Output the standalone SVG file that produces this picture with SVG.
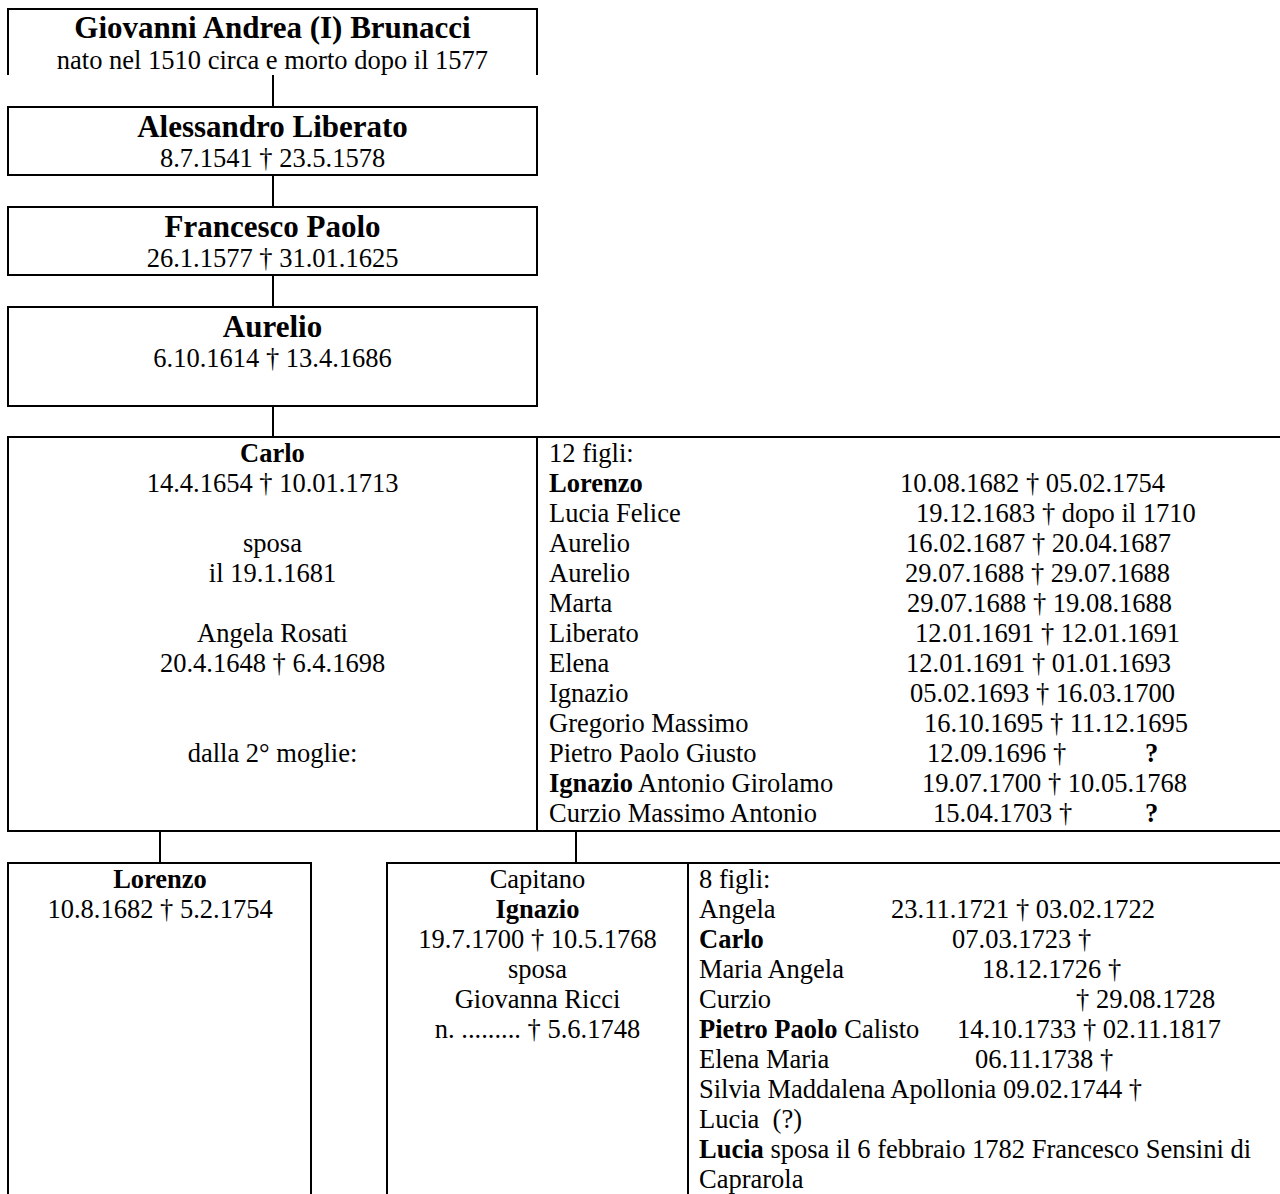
<svg xmlns="http://www.w3.org/2000/svg" width="1280" height="1194" viewBox="0 0 1280 1194">
<style>
text{font-family:"Liberation Serif","Times New Roman",serif;font-size:26.5px;fill:#000}
.t{font-size:31px;font-weight:bold}
.b{font-weight:bold}
.c{text-anchor:middle}
.box{fill:none;stroke:#000;stroke-width:2}
.ln{stroke:#000;stroke-width:2;fill:none}
</style>
<rect width="1280" height="1194" fill="#fff"/>
<g id="connectors">
<line class="ln" x1="273" y1="75" x2="273" y2="107"/>
<line class="ln" x1="273" y1="175" x2="273" y2="207"/>
<line class="ln" x1="273" y1="275" x2="273" y2="307"/>
<line class="ln" x1="273" y1="406" x2="273" y2="437"/>
<line class="ln" x1="160" y1="831" x2="160" y2="863"/>
<line class="ln" x1="576" y1="831" x2="576" y2="863"/>
</g>
<g id="giovanni">
<path class="box" d="M8,75 V9 H537 V75"/>
<text class="t c" x="272.5" y="38">Giovanni Andrea (I) Brunacci</text>
<text class="c" x="272.5" y="69">nato nel 1510 circa e morto dopo il 1577</text>
</g>
<g id="alessandro">
<rect class="box" x="8" y="107" width="529" height="68"/>
<text class="t c" x="272.5" y="137">Alessandro Liberato</text>
<text class="c" x="272.5" y="167">8.7.1541 † 23.5.1578</text>
</g>
<g id="francesco">
<rect class="box" x="8" y="207" width="529" height="68"/>
<text class="t c" x="272.5" y="237">Francesco Paolo</text>
<text class="c" x="272.5" y="267">26.1.1577 † 31.01.1625</text>
</g>
<g id="aurelio">
<rect class="box" x="8" y="307" width="529" height="99"/>
<text class="t c" x="272.5" y="337">Aurelio</text>
<text class="c" x="272.5" y="367">6.10.1614 † 13.4.1686</text>
</g>
<g id="carlo">
<path class="box" d="M1282,437 H8 V831 H1282 M537,437 V831"/>
<text class="c b" x="272.5" y="462">Carlo</text>
<text class="c" x="272.5" y="492">14.4.1654 † 10.01.1713</text>
<text class="c" x="272.5" y="552">sposa</text>
<text class="c" x="272.5" y="582">il 19.1.1681</text>
<text class="c" x="272.5" y="642">Angela Rosati</text>
<text class="c" x="272.5" y="672">20.4.1648 † 6.4.1698</text>
<text class="c" x="272.5" y="762">dalla 2° moglie:</text>
</g>
<g id="figli12">
<text x="549" y="462">12 figli:</text>
<text class="b" x="549" y="492">Lorenzo</text><text x="900" y="492">10.08.1682 † 05.02.1754</text>
<text x="549" y="522">Lucia Felice</text><text x="916" y="522">19.12.1683 † dopo il 1710</text>
<text x="549" y="552">Aurelio</text><text x="906" y="552">16.02.1687 † 20.04.1687</text>
<text x="549" y="582">Aurelio</text><text x="905" y="582">29.07.1688 † 29.07.1688</text>
<text x="549" y="612">Marta</text><text x="907" y="612">29.07.1688 † 19.08.1688</text>
<text x="549" y="642">Liberato</text><text x="915" y="642">12.01.1691 † 12.01.1691</text>
<text x="549" y="672">Elena</text><text x="906" y="672">12.01.1691 † 01.01.1693</text>
<text x="549" y="702">Ignazio</text><text x="910" y="702">05.02.1693 † 16.03.1700</text>
<text x="549" y="732">Gregorio Massimo</text><text x="924" y="732">16.10.1695 † 11.12.1695</text>
<text x="549" y="762">Pietro Paolo Giusto</text><text x="927" y="762">12.09.1696 †</text><text class="b" x="1145" y="762">?</text>
<text x="549" y="792"><tspan class="b">Ignazio</tspan> Antonio Girolamo</text><text x="922" y="792">19.07.1700 † 10.05.1768</text>
<text x="549" y="822">Curzio Massimo Antonio</text><text x="933" y="822">15.04.1703 †</text><text class="b" x="1145" y="822">?</text>
</g>
<g id="lorenzo">
<path class="box" d="M8,1196 V863 H311 V1196"/>
<text class="c b" x="160" y="888">Lorenzo</text>
<text class="c" x="160" y="918">10.8.1682 † 5.2.1754</text>
</g>
<g id="ignazio">
<path class="box" d="M387,1196 V863 H1282 M688,863 V1196"/>
<text class="c" x="537.5" y="888">Capitano</text>
<text class="c b" x="537.5" y="918">Ignazio</text>
<text class="c" x="537.5" y="948">19.7.1700 † 10.5.1768</text>
<text class="c" x="537.5" y="978">sposa</text>
<text class="c" x="537.5" y="1008">Giovanna Ricci</text>
<text class="c" x="537.5" y="1038">n. ......... † 5.6.1748</text>
</g>
<g id="figli8">
<text x="699" y="888">8 figli:</text>
<text x="699" y="918">Angela</text><text x="891" y="918">23.11.1721 † 03.02.1722</text>
<text class="b" x="699" y="948">Carlo</text><text x="952" y="948">07.03.1723 †</text>
<text x="699" y="978">Maria Angela</text><text x="982" y="978">18.12.1726 †</text>
<text x="699" y="1008">Curzio</text><text x="1076" y="1008">† 29.08.1728</text>
<text x="699" y="1038"><tspan class="b">Pietro Paolo</tspan> Calisto</text><text x="957" y="1038">14.10.1733 † 02.11.1817</text>
<text x="699" y="1068">Elena Maria</text><text x="975" y="1068">06.11.1738 †</text>
<text x="699" y="1098">Silvia Maddalena Apollonia 09.02.1744 †</text>
<text x="699" y="1128" xml:space="preserve">Lucia  (?)</text>
<text x="699" y="1158"><tspan class="b">Lucia</tspan> sposa il 6 febbraio 1782 Francesco Sensini di</text>
<text x="699" y="1188">Caprarola</text>
</g>
</svg>
